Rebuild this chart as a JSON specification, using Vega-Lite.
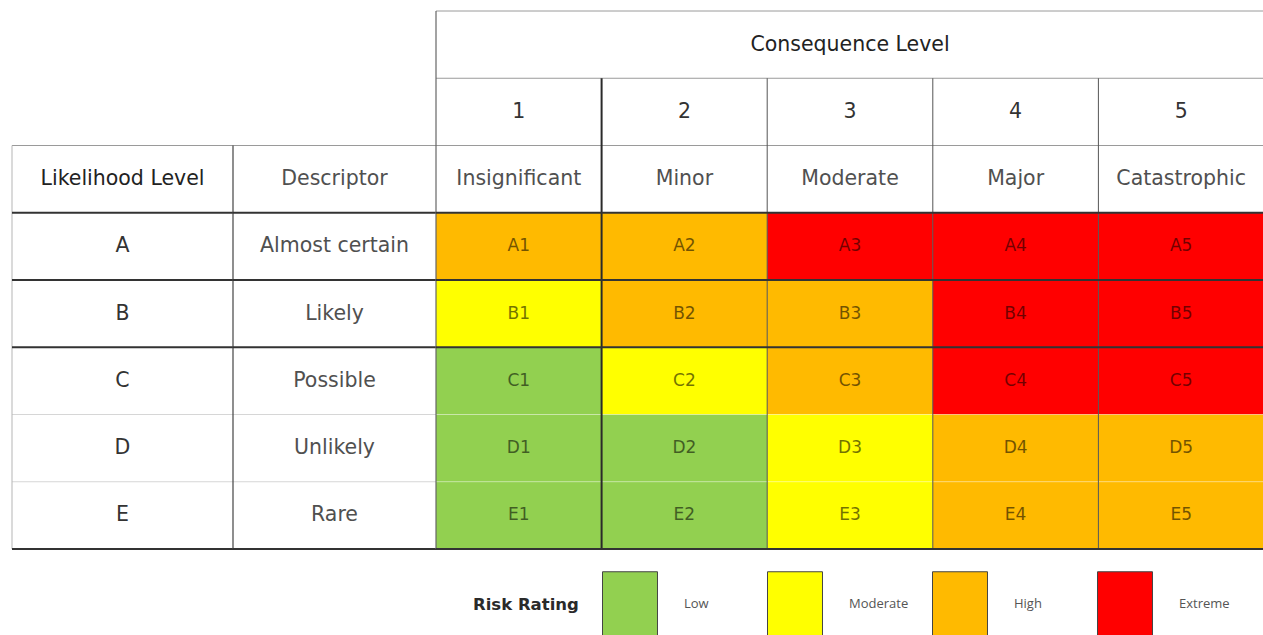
{
"$schema": "https://vega.github.io/schema/vega-lite/v6.json",
"padding": {"left": 11, "top": 10, "right": 0, "bottom": 0},
"background": "#ffffff",
"spacing": 0,
"bounds": "flush",
"config": {"view": {"stroke": null}, "font": "DejaVu Sans", "text": {"font": "DejaVu Sans", "fontSize": 20.5, "color": "#444444"}},
"datasets": {
  "rows": [{"row": "cl"}, {"row": "num"}, {"row": "hdr"}, {"row": "A"}, {"row": "B"}, {"row": "C"}, {"row": "D"}, {"row": "E"}],
  "lik": [{"row": "A", "desc": "Almost certain"}, {"row": "B", "desc": "Likely"}, {"row": "C", "desc": "Possible"}, {"row": "D", "desc": "Unlikely"}, {"row": "E", "desc": "Rare"}],
  "con": [{"col": 1, "name": "Insignificant"}, {"col": 2, "name": "Minor"}, {"col": 3, "name": "Moderate"}, {"col": 4, "name": "Major"}, {"col": 5, "name": "Catastrophic"}],
  "headers": [{"panel": "lik", "text": "Likelihood Level"}, {"panel": "desc", "text": "Descriptor"}, {"panel": "con", "text": "Consequence Level"}],
  "cells": [
    {"row": "A", "col": 1, "code": "A1", "rating": "High"},
    {"row": "A", "col": 2, "code": "A2", "rating": "High"},
    {"row": "A", "col": 3, "code": "A3", "rating": "Extreme"},
    {"row": "A", "col": 4, "code": "A4", "rating": "Extreme"},
    {"row": "A", "col": 5, "code": "A5", "rating": "Extreme"},
    {"row": "B", "col": 1, "code": "B1", "rating": "Moderate"},
    {"row": "B", "col": 2, "code": "B2", "rating": "High"},
    {"row": "B", "col": 3, "code": "B3", "rating": "High"},
    {"row": "B", "col": 4, "code": "B4", "rating": "Extreme"},
    {"row": "B", "col": 5, "code": "B5", "rating": "Extreme"},
    {"row": "C", "col": 1, "code": "C1", "rating": "Low"},
    {"row": "C", "col": 2, "code": "C2", "rating": "Moderate"},
    {"row": "C", "col": 3, "code": "C3", "rating": "High"},
    {"row": "C", "col": 4, "code": "C4", "rating": "Extreme"},
    {"row": "C", "col": 5, "code": "C5", "rating": "Extreme"},
    {"row": "D", "col": 1, "code": "D1", "rating": "Low"},
    {"row": "D", "col": 2, "code": "D2", "rating": "Low"},
    {"row": "D", "col": 3, "code": "D3", "rating": "Moderate"},
    {"row": "D", "col": 4, "code": "D4", "rating": "High"},
    {"row": "D", "col": 5, "code": "D5", "rating": "High"},
    {"row": "E", "col": 1, "code": "E1", "rating": "Low"},
    {"row": "E", "col": 2, "code": "E2", "rating": "Low"},
    {"row": "E", "col": 3, "code": "E3", "rating": "Moderate"},
    {"row": "E", "col": 4, "code": "E4", "rating": "High"},
    {"row": "E", "col": 5, "code": "E5", "rating": "High"}
  ]
},
"resolve": {"scale": {"x": "independent", "y": "independent"}},
"hconcat": [
  {
    "width": 221, "height": 538,
    "layer": [
      {"data": {"name": "lik"}, "mark": {"type": "text", "color": "#333333"},
       "encoding": {
         "x": {"datum": "lik", "type": "nominal", "scale": {"type": "band", "domain": ["lik"], "paddingInner": 0, "paddingOuter": 0}, "axis": null},
         "y": {"field": "row", "type": "nominal", "scale": {"type": "band", "domain": ["cl", "num", "hdr", "A", "B", "C", "D", "E"], "paddingInner": 0, "paddingOuter": 0}, "axis": null},
         "text": {"field": "row"}}},
      {"data": {"name": "headers"}, "transform": [{"filter": "datum.panel === 'lik'"}], "mark": {"type": "text", "color": "#222222"},
       "encoding": {"x": {"datum": "lik", "type": "nominal"}, "y": {"datum": "hdr", "type": "nominal"}, "text": {"field": "text"}}},
      {"data": {"name": "rows"}, "transform": [{"filter": "datum.row === 'hdr'"}], "mark": {"type": "rule", "color": "#9a9a9a", "strokeWidth": 1},
       "encoding": {"y": {"field": "row", "type": "nominal", "bandPosition": 0}}},
      {"data": {"name": "rows"}, "transform": [{"filter": "indexof(['D','E'], datum.row) >= 0"}], "mark": {"type": "rule", "color": "#d6d6d6", "strokeWidth": 1},
       "encoding": {"y": {"field": "row", "type": "nominal", "bandPosition": 0}}},
      {"data": {"name": "rows"}, "transform": [{"filter": "datum.row === 'hdr'"}], "mark": {"type": "rule", "color": "#b5b5b5", "strokeWidth": 1},
       "encoding": {"x": {"datum": "lik", "type": "nominal", "bandPosition": 0}, "y": {"datum": "hdr", "type": "nominal", "bandPosition": 0}, "y2": {"datum": "E", "bandPosition": 1}}},
      {"data": {"name": "rows"}, "transform": [{"filter": "indexof(['A','B','C'], datum.row) >= 0"}], "mark": {"type": "rule", "color": "#333333", "strokeWidth": 2},
       "encoding": {"y": {"field": "row", "type": "nominal", "bandPosition": 0}}},
      {"data": {"name": "rows"}, "transform": [{"filter": "datum.row === 'E'"}], "mark": {"type": "rule", "color": "#333333", "strokeWidth": 2},
       "encoding": {"y": {"field": "row", "type": "nominal", "bandPosition": 1}}}
    ]
  },
  {
    "width": 203, "height": 538,
    "layer": [
      {"data": {"name": "lik"}, "mark": {"type": "text", "color": "#505050"},
       "encoding": {
         "x": {"datum": "desc", "type": "nominal", "scale": {"type": "band", "domain": ["desc"], "paddingInner": 0, "paddingOuter": 0}, "axis": null},
         "y": {"field": "row", "type": "nominal", "scale": {"type": "band", "domain": ["cl", "num", "hdr", "A", "B", "C", "D", "E"], "paddingInner": 0, "paddingOuter": 0}, "axis": null},
         "text": {"field": "desc"}}},
      {"data": {"name": "headers"}, "transform": [{"filter": "datum.panel === 'desc'"}], "mark": {"type": "text", "color": "#505050"},
       "encoding": {"x": {"datum": "desc", "type": "nominal"}, "y": {"datum": "hdr", "type": "nominal"}, "text": {"field": "text"}}},
      {"data": {"name": "rows"}, "transform": [{"filter": "datum.row === 'hdr'"}], "mark": {"type": "rule", "color": "#9a9a9a", "strokeWidth": 1},
       "encoding": {"y": {"field": "row", "type": "nominal", "bandPosition": 0}}},
      {"data": {"name": "rows"}, "transform": [{"filter": "indexof(['D','E'], datum.row) >= 0"}], "mark": {"type": "rule", "color": "#d6d6d6", "strokeWidth": 1},
       "encoding": {"y": {"field": "row", "type": "nominal", "bandPosition": 0}}},
      {"data": {"name": "rows"}, "transform": [{"filter": "datum.row === 'hdr'"}], "mark": {"type": "rule", "color": "#444444", "strokeWidth": 1.2},
       "encoding": {"x": {"datum": "desc", "type": "nominal", "bandPosition": 0}, "y": {"datum": "hdr", "type": "nominal", "bandPosition": 0}, "y2": {"datum": "E", "bandPosition": 1}}},
      {"data": {"name": "rows"}, "transform": [{"filter": "indexof(['A','B','C'], datum.row) >= 0"}], "mark": {"type": "rule", "color": "#333333", "strokeWidth": 2},
       "encoding": {"y": {"field": "row", "type": "nominal", "bandPosition": 0}}},
      {"data": {"name": "rows"}, "transform": [{"filter": "datum.row === 'E'"}], "mark": {"type": "rule", "color": "#333333", "strokeWidth": 2},
       "encoding": {"y": {"field": "row", "type": "nominal", "bandPosition": 1}}}
    ]
  },
  {
    "width": 828, "height": 538,
    "layer": [
      {"data": {"name": "cells"}, "mark": {"type": "rect"},
       "encoding": {
         "x": {"field": "col", "type": "ordinal", "scale": {"type": "band", "domain": [1, 2, 3, 4, 5], "paddingInner": 0, "paddingOuter": 0}, "axis": null},
         "y": {"field": "row", "type": "nominal", "scale": {"type": "band", "domain": ["cl", "num", "hdr", "A", "B", "C", "D", "E"], "paddingInner": 0, "paddingOuter": 0}, "axis": null},
         "fill": {"field": "rating", "type": "nominal",
           "scale": {"domain": ["Low", "Moderate", "High", "Extreme"], "range": ["#92D050", "#FFFF00", "#FFBA00", "#FF0000"]},
           "legend": {"title": "Risk Rating", "orient": "none", "legendX": 461, "legendY": 560, "direction": "horizontal", "columns": 4,
             "titleOrient": "left", "titleAnchor": "middle", "titleBaseline": "middle", "titleFont": "DejaVu Sans", "titleFontSize": 16.5, "titleFontWeight": 600, "titleColor": "#2a2a2a", "titlePadding": 18,
             "symbolType": "M-0.846,-1H0.846V1H-0.846Z", "symbolSize": 4225, "symbolStrokeColor": "#444444", "symbolStrokeWidth": 1, "symbolOpacity": 1,
             "labelFont": "Open Sans", "labelFontSize": 13, "labelColor": "#555555", "labelOffset": 21, "columnPadding": 18, "gridAlign": "all"}}}},
      {"data": {"name": "cells"}, "mark": {"type": "text", "fontSize": 17, "color": "#000000", "opacity": 0.55},
       "encoding": {"x": {"field": "col", "type": "ordinal"}, "y": {"field": "row", "type": "nominal"}, "text": {"field": "code"}}},
      {"data": {"name": "con"}, "mark": {"type": "text", "color": "#333333"},
       "encoding": {"x": {"field": "col", "type": "ordinal"}, "y": {"datum": "num", "type": "nominal"}, "text": {"field": "col"}}},
      {"data": {"name": "con"}, "mark": {"type": "text", "color": "#505050"},
       "encoding": {"x": {"field": "col", "type": "ordinal"}, "y": {"datum": "hdr", "type": "nominal"}, "text": {"field": "name"}}},
      {"data": {"name": "headers"}, "transform": [{"filter": "datum.panel === 'con'"}], "mark": {"type": "text", "color": "#222222"},
       "encoding": {"x": {"datum": 3, "type": "ordinal"}, "y": {"datum": "cl", "type": "nominal"}, "text": {"field": "text"}}},
      {"data": {"name": "rows"}, "transform": [{"filter": "indexof(['cl','num','hdr'], datum.row) >= 0"}], "mark": {"type": "rule", "color": "#9a9a9a", "strokeWidth": 1},
       "encoding": {"y": {"field": "row", "type": "nominal", "bandPosition": 0}}},
      {"data": {"name": "rows"}, "transform": [{"filter": "indexof(['D','E'], datum.row) >= 0"}], "mark": {"type": "rule", "color": "#ffffff", "strokeWidth": 1, "opacity": 0.35},
       "encoding": {"y": {"field": "row", "type": "nominal", "bandPosition": 0}}},
      {"data": {"name": "rows"}, "transform": [{"filter": "datum.row === 'cl'"}], "mark": {"type": "rule", "color": "#666666", "strokeWidth": 1.2},
       "encoding": {"x": {"datum": 1, "type": "ordinal", "bandPosition": 0}, "y": {"datum": "cl", "type": "nominal", "bandPosition": 0}, "y2": {"datum": "E", "bandPosition": 1}}},
      {"data": {"name": "con"}, "transform": [{"filter": "datum.col >= 3"}], "mark": {"type": "rule", "color": "#555555", "strokeWidth": 1},
       "encoding": {"x": {"field": "col", "type": "ordinal", "bandPosition": 0}, "y": {"datum": "num", "type": "nominal", "bandPosition": 0}, "y2": {"datum": "E", "bandPosition": 1}}},
      {"data": {"name": "con"}, "transform": [{"filter": "datum.col === 2"}], "mark": {"type": "rule", "color": "#2a2a2a", "strokeWidth": 2},
       "encoding": {"x": {"field": "col", "type": "ordinal", "bandPosition": 0}, "y": {"datum": "num", "type": "nominal", "bandPosition": 0}, "y2": {"datum": "E", "bandPosition": 1}}},
      {"data": {"name": "rows"}, "transform": [{"filter": "indexof(['A','B','C'], datum.row) >= 0"}], "mark": {"type": "rule", "color": "#333333", "strokeWidth": 2},
       "encoding": {"y": {"field": "row", "type": "nominal", "bandPosition": 0}}},
      {"data": {"name": "rows"}, "transform": [{"filter": "datum.row === 'E'"}], "mark": {"type": "rule", "color": "#333333", "strokeWidth": 2},
       "encoding": {"y": {"field": "row", "type": "nominal", "bandPosition": 1}}}
    ]
  }
]
}
